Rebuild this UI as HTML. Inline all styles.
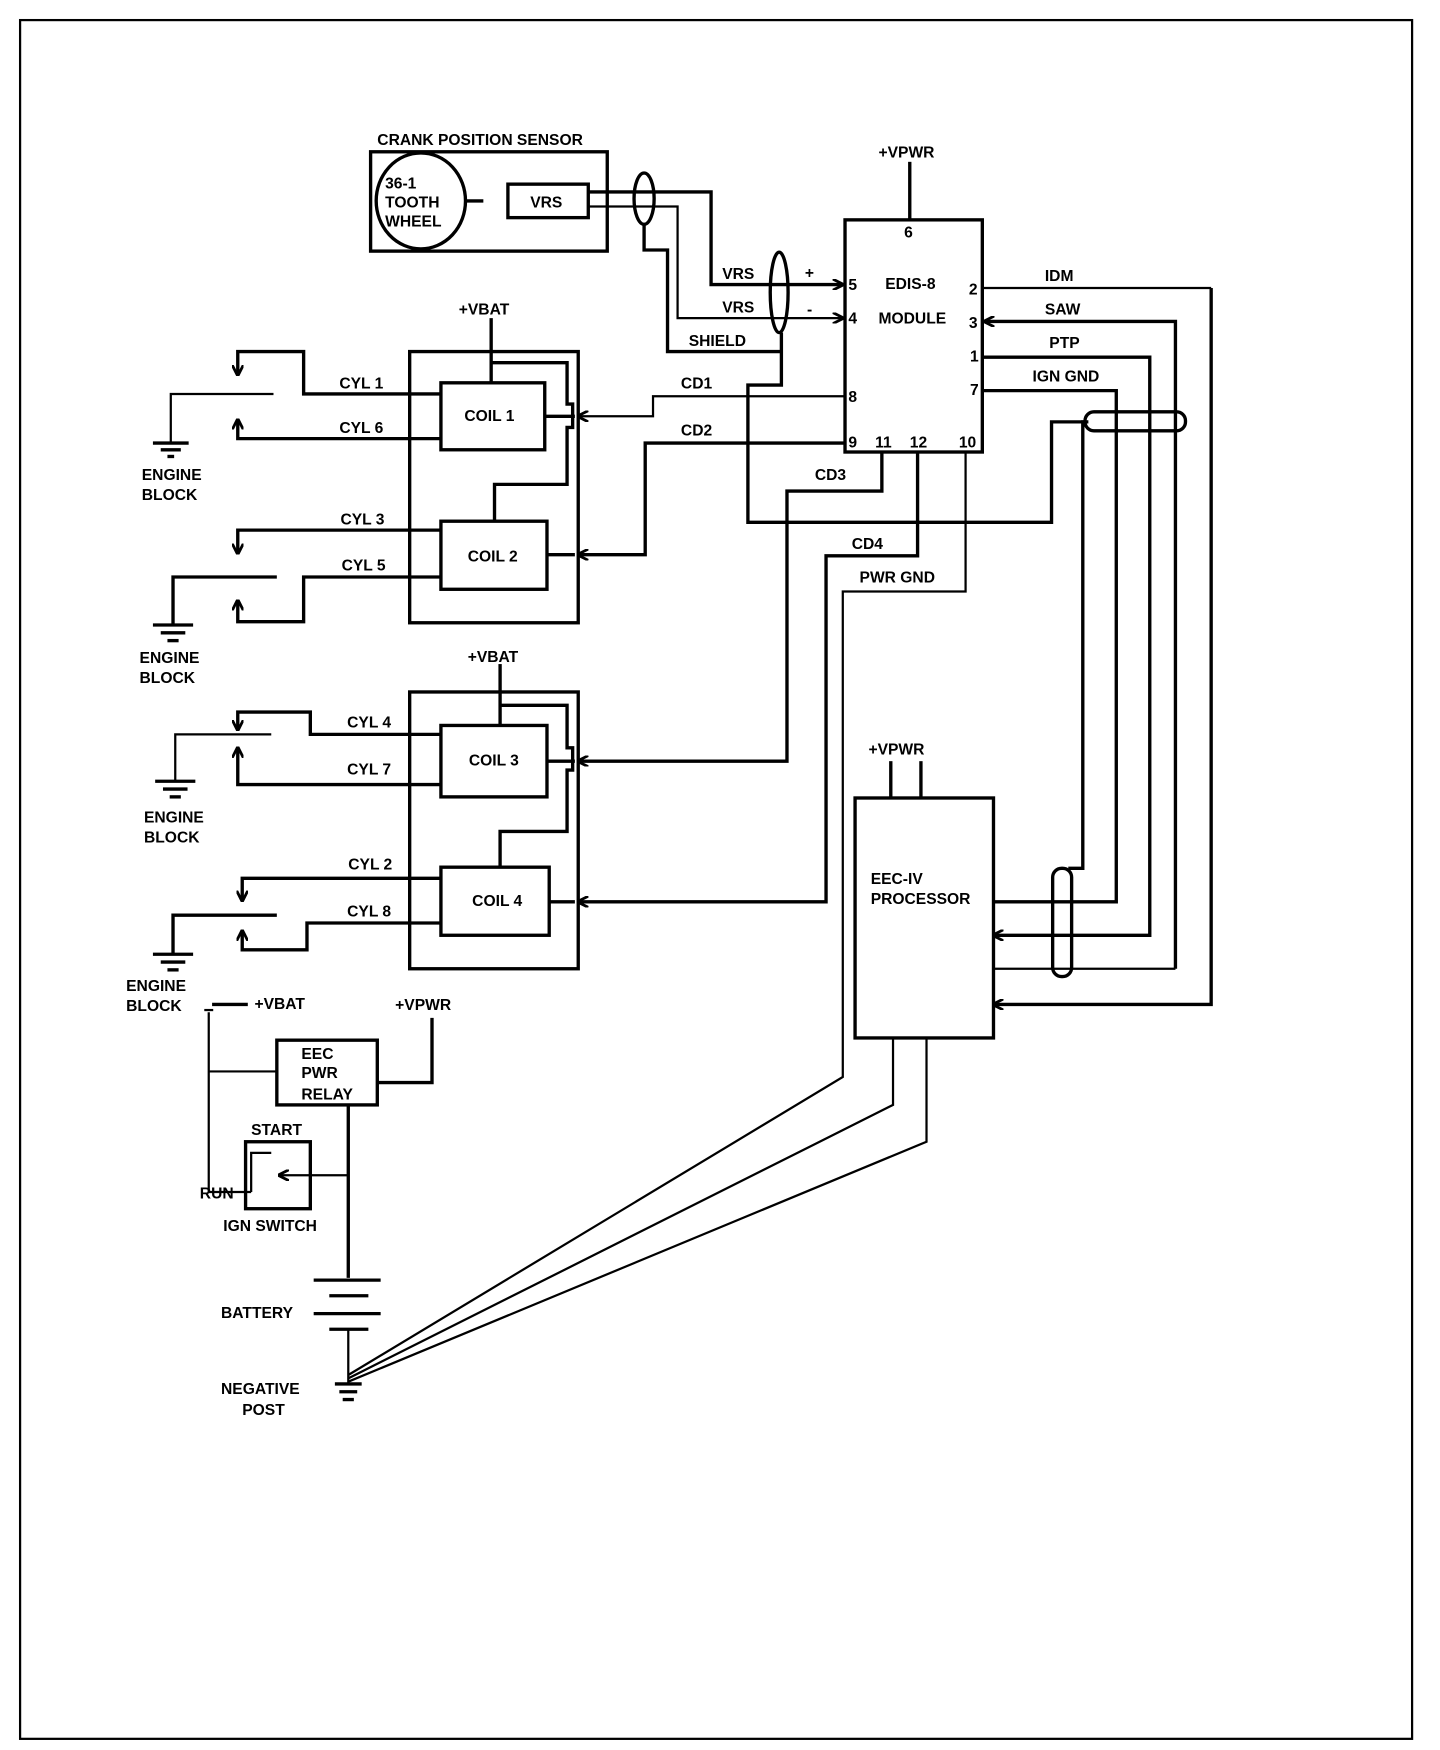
<!DOCTYPE html>
<html><head><meta charset="utf-8"><style>
html,body{margin:0;padding:0;background:#fff;}
svg{display:block;}
text{font-family:"Liberation Sans",Arial,sans-serif;font-weight:bold;font-size:14px;fill:#000;}
</style></head><body>
<svg width="1440" height="1750" viewBox="0 0 1290 1568" preserveAspectRatio="none" xmlns="http://www.w3.org/2000/svg">
<defs>
<marker id="ah" markerWidth="10" markerHeight="10" refX="9" refY="5" orient="auto" markerUnits="userSpaceOnUse">
<path d="M0,0 L10,5 L0,10" fill="none" stroke="#000" stroke-width="2.5"/>
</marker>
</defs>
<rect x="0" y="0" width="1300" height="1568" fill="#fff"/>
<g fill="none" stroke="#000" stroke-width="3">
<rect x="18" y="18" width="1247" height="1540" stroke-width="2"/>
<!-- crank sensor -->
<rect x="332" y="136" width="212" height="89"/>
<ellipse cx="377" cy="180" rx="40" ry="43"/>
<line x1="417" y1="180" x2="433" y2="180"/>
<rect x="455" y="165" width="72" height="30"/>
<polyline points="527,172 637,172 637,255 755,255" marker-end="url(#ah)"/>
<polyline points="527,185 607,185 607,285 755,285" marker-end="url(#ah)" stroke-width="2"/>
<ellipse cx="577" cy="178" rx="9" ry="23"/>
<polyline points="577,201 577,224 598,224 598,315 700,315"/>
<ellipse cx="698" cy="262" rx="8" ry="36"/>
<polyline points="700,298 700,345 670,345 670,468 942,468 942,378 975,378"/>
<!-- EDIS -->
<rect x="757" y="197" width="123" height="208"/>
<line x1="815" y1="145" x2="815" y2="197"/>
<line x1="1085" y1="258" x2="880" y2="258" stroke-width="2"/>
<polyline points="1085,258 1085,900 890,900" marker-end="url(#ah)"/>
<polyline points="1053,868 1053,288 882,288" marker-end="url(#ah)"/>
<polyline points="1053,868 890,868" stroke-width="2"/>
<polyline points="880,320 1030,320 1030,838 890,838" marker-end="url(#ah)"/>
<polyline points="880,350 1000,350 1000,808 890,808"/>
<rect x="972" y="369" width="90" height="17" rx="8" ry="8"/>
<polyline points="972,378 970,378 970,778 957,778"/>
<rect x="943" y="778" width="17" height="97" rx="8" ry="8"/>
<!-- CD lines -->
<polyline points="757,355 585,355 585,373 518,373" marker-end="url(#ah)" stroke-width="2"/>
<polyline points="757,397 578,397 578,497 518,497" marker-end="url(#ah)"/>
<polyline points="790,405 790,440 705,440 705,682 518,682" marker-end="url(#ah)"/>
<polyline points="822,405 822,498 740,498 740,808 518,808" marker-end="url(#ah)"/>
<polyline points="865,405 865,530 755,530 755,965 312,1232" stroke-width="2"/>
<!-- EEC -->
<rect x="766" y="715" width="124" height="215"/>
<line x1="798" y1="682" x2="798" y2="715"/>
<line x1="825" y1="682" x2="825" y2="715"/>
<polyline points="800,930 800,990 312,1235" stroke-width="2"/>
<polyline points="830,930 830,1023 312,1238" stroke-width="2"/>
<!-- coil group 1 -->
<rect x="367" y="315" width="151" height="243"/>
<line x1="440" y1="285" x2="440" y2="343"/>
<rect x="395" y="343" width="93" height="60"/>
<rect x="395" y="467" width="95" height="61"/>
<polyline points="440,325 508,325 508,362 513,362 513,383 508,383 508,434 443,434 443,467"/>
<line x1="488" y1="373" x2="515" y2="373"/>
<line x1="490" y1="497" x2="515" y2="497"/>
<!-- coil group 2 -->
<rect x="367" y="620" width="151" height="248"/>
<line x1="448" y1="595" x2="448" y2="650"/>
<rect x="395" y="650" width="95" height="64"/>
<rect x="395" y="777" width="97" height="61"/>
<polyline points="448,632 508,632 508,670 513,670 513,690 508,690 508,745 448,745 448,777"/>
<line x1="490" y1="682" x2="515" y2="682"/>
<line x1="492" y1="808" x2="515" y2="808"/>
<!-- cylinders -->
<polyline points="395,353 272,353 272,315 213,315 213,336" marker-end="url(#ah)"/>
<polyline points="395,393 213,393 213,376" marker-end="url(#ah)"/>
<polyline points="245,353 153,353 153,397" stroke-width="2"/>
<polyline points="395,475 213,475 213,496" marker-end="url(#ah)"/>
<polyline points="395,517 272,517 272,557 213,557 213,538" marker-end="url(#ah)"/>
<polyline points="248,517 155,517 155,560"/>
<polyline points="395,658 278,658 278,638 213,638 213,654" marker-end="url(#ah)"/>
<polyline points="395,703 213,703 213,670" marker-end="url(#ah)"/>
<polyline points="243,658 157,658 157,700" stroke-width="2"/>
<polyline points="395,787 217,787 217,807" marker-end="url(#ah)"/>
<polyline points="395,827 275,827 275,851 217,851 217,834" marker-end="url(#ah)"/>
<polyline points="248,820 155,820 155,855"/>
<!-- grounds -->
<g stroke-width="3">
<line x1="137" y1="397" x2="169" y2="397"/><line x1="144" y1="403" x2="162" y2="403"/><line x1="150" y1="409" x2="156" y2="409"/>
<line x1="137" y1="560" x2="173" y2="560"/><line x1="144" y1="567" x2="166" y2="567"/><line x1="150" y1="574" x2="160" y2="574"/>
<line x1="139" y1="700" x2="175" y2="700"/><line x1="146" y1="707" x2="168" y2="707"/><line x1="152" y1="714" x2="162" y2="714"/>
<line x1="137" y1="855" x2="173" y2="855"/><line x1="144" y1="862" x2="166" y2="862"/><line x1="150" y1="869" x2="160" y2="869"/>
<line x1="300" y1="1240" x2="324" y2="1240"/><line x1="304" y1="1247" x2="320" y2="1247"/><line x1="307" y1="1254" x2="317" y2="1254"/>
</g>
<!-- relay -->
<line x1="190" y1="900" x2="222" y2="900"/>
<line x1="183" y1="905" x2="191" y2="905" stroke-width="2"/>
<polyline points="187,907 187,1068 225,1068" stroke-width="2"/>
<line x1="187" y1="960" x2="248" y2="960" stroke-width="2"/>
<rect x="248" y="932" width="90" height="58"/>
<polyline points="338,970 387,970 387,912"/>
<line x1="312" y1="990" x2="312" y2="1145"/>
<rect x="220" y="1023" width="58" height="60"/>
<polyline points="225,1068 225,1033 243,1033" stroke-width="2"/>
<line x1="312" y1="1053" x2="250" y2="1053" marker-end="url(#ah)" stroke-width="2"/>
<line x1="281" y1="1147" x2="341" y2="1147"/>
<line x1="295" y1="1161" x2="330" y2="1161"/>
<line x1="281" y1="1177" x2="341" y2="1177"/>
<line x1="295" y1="1191" x2="330" y2="1191"/>
<line x1="312" y1="1191" x2="312" y2="1240" stroke-width="2"/>
</g>
<!-- text -->
<text x="338" y="130">CRANK POSITION SENSOR</text>
<text x="345" y="169" font-size="13">36-1</text>
<text x="345" y="186" font-size="13">TOOTH</text>
<text x="345" y="203" font-size="13">WHEEL</text>
<text x="475" y="186">VRS</text>
<text x="787" y="141">+VPWR</text>
<text x="810" y="213" font-size="12">6</text>
<text x="647" y="250">VRS</text>
<text x="647" y="280">VRS</text>
<text x="617" y="310">SHIELD</text>
<text x="721" y="249">+</text>
<text x="723" y="282">-</text>
<text x="760" y="260" font-size="12">5</text>
<text x="760" y="290" font-size="12">4</text>
<text x="793" y="259">EDIS-8</text>
<text x="787" y="290">MODULE</text>
<text x="868" y="264" font-size="12">2</text>
<text x="868" y="294" font-size="12">3</text>
<text x="869" y="324" font-size="12">1</text>
<text x="869" y="354" font-size="12">7</text>
<text x="760" y="360" font-size="12">8</text>
<text x="760" y="401" font-size="12">9</text>
<text x="784" y="401" font-size="11">11</text>
<text x="815" y="401" font-size="11">12</text>
<text x="859" y="401" font-size="11">10</text>
<text x="936" y="252">IDM</text>
<text x="936" y="282">SAW</text>
<text x="940" y="312">PTP</text>
<text x="925" y="342">IGN GND</text>
<text x="610" y="348">CD1</text>
<text x="610" y="390">CD2</text>
<text x="730" y="430">CD3</text>
<text x="763" y="492">CD4</text>
<text x="770" y="522">PWR GND</text>
<text x="411" y="282">+VBAT</text>
<text x="419" y="593">+VBAT</text>
<text x="416" y="377">COIL 1</text>
<text x="419" y="503">COIL 2</text>
<text x="420" y="686">COIL 3</text>
<text x="423" y="812">COIL 4</text>
<text x="304" y="348">CYL 1</text>
<text x="304" y="388">CYL 6</text>
<text x="305" y="470">CYL 3</text>
<text x="306" y="511">CYL 5</text>
<text x="311" y="652">CYL 4</text>
<text x="311" y="694">CYL 7</text>
<text x="312" y="779">CYL 2</text>
<text x="311" y="821">CYL 8</text>
<text x="127" y="430">ENGINE</text><text x="127" y="448">BLOCK</text>
<text x="125" y="594">ENGINE</text><text x="125" y="612">BLOCK</text>
<text x="129" y="737">ENGINE</text><text x="129" y="755">BLOCK</text>
<text x="113" y="888">ENGINE</text><text x="113" y="906">BLOCK</text>
<text x="778" y="676">+VPWR</text>
<text x="780" y="792">EEC-IV</text>
<text x="780" y="810">PROCESSOR</text>
<text x="228" y="904">+VBAT</text>
<text x="354" y="905">+VPWR</text>
<text x="270" y="949" font-size="13">EEC</text>
<text x="270" y="966" font-size="13">PWR</text>
<text x="270" y="985" font-size="13">RELAY</text>
<text x="225" y="1017">START</text>
<text x="179" y="1074">RUN</text>
<text x="200" y="1103">IGN SWITCH</text>
<text x="198" y="1181">BATTERY</text>
<text x="198" y="1249">NEGATIVE</text>
<text x="217" y="1268">POST</text>
</svg>
</body></html>
